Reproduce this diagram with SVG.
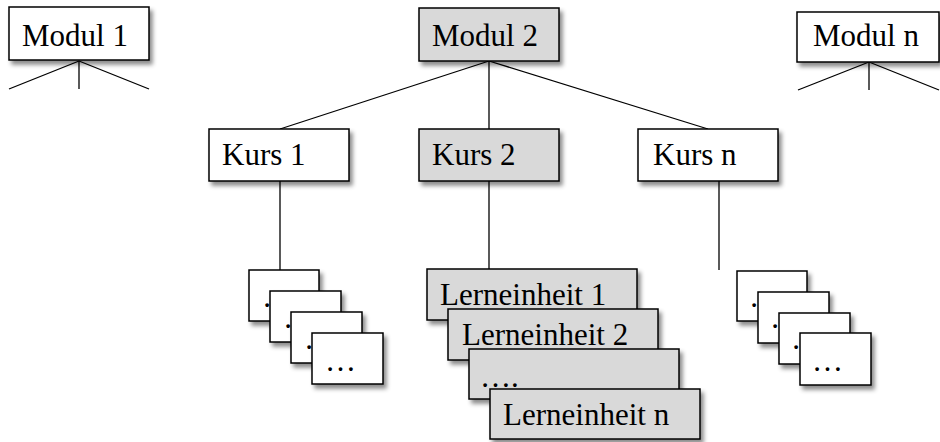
<svg xmlns="http://www.w3.org/2000/svg" width="940" height="442" viewBox="0 0 940 442">
  <style>
    .box { fill: #ffffff; stroke: #000000; stroke-width: 1.5; filter: url(#shadow); }
    .grey { fill: #d9d9d9; }
    .lbl { font-family: "Liberation Serif", "Times New Roman", serif; font-size: 31px; fill: #000000; }
    .link { stroke: #000000; stroke-width: 1.3; fill: none; }
  </style>
  <defs>
    <filter id="shadow" x="-10%" y="-10%" width="130%" height="140%">
      <feDropShadow dx="3" dy="4" stdDeviation="2" flood-color="#000000" flood-opacity="0.45"/>
    </filter>
  </defs>
  <rect width="940" height="442" fill="#ffffff"/>

  <!-- connectors -->
  <g id="connectors" class="link">
    <!-- Modul 1 fan -->
    <line x1="79" y1="61" x2="9" y2="89"/>
    <line x1="79" y1="61" x2="79" y2="89"/>
    <line x1="79" y1="61" x2="149" y2="89"/>
    <!-- Modul n fan -->
    <line x1="869" y1="62" x2="798" y2="90"/>
    <line x1="869" y1="62" x2="869" y2="90"/>
    <line x1="869" y1="62" x2="939" y2="90"/>
    <!-- Modul 2 to courses -->
    <line x1="489" y1="61" x2="280" y2="129"/>
    <line x1="489" y1="61" x2="489" y2="129"/>
    <line x1="489" y1="61" x2="708" y2="129"/>
    <!-- courses to units -->
    <line x1="280" y1="181" x2="280" y2="270"/>
    <line x1="489" y1="181" x2="489" y2="269"/>
    <line x1="719" y1="181" x2="719" y2="270"/>
  </g>

  <!-- modules -->
  <g id="modul1">
    <rect class="box" x="9" y="7" width="140" height="53"/>
    <text class="lbl" x="22" y="46">Modul 1</text>
  </g>
  <g id="modul2">
    <rect class="box grey" x="419" y="8" width="140" height="53"/>
    <text class="lbl" x="432" y="46">Modul 2</text>
  </g>
  <g id="moduln">
    <rect class="box" x="797" y="12" width="142" height="50"/>
    <text class="lbl" x="813" y="46">Modul n</text>
  </g>

  <!-- courses -->
  <g id="kurs1">
    <rect class="box" x="209" y="129" width="140" height="52"/>
    <text class="lbl" x="222" y="165">Kurs 1</text>
  </g>
  <g id="kurs2">
    <rect class="box grey" x="419" y="129" width="140" height="52"/>
    <text class="lbl" x="432" y="165">Kurs 2</text>
  </g>
  <g id="kursn">
    <rect class="box" x="638" y="129" width="140" height="52"/>
    <text class="lbl" x="653" y="165">Kurs n</text>
  </g>

  <!-- units of Kurs 1 -->
  <g id="units1">
    <rect class="box" x="249" y="270" width="70" height="51"/>
    <text class="lbl" x="262" y="307">…</text>
    <rect class="box" x="270" y="291" width="71" height="51"/>
    <text class="lbl" x="283" y="328">…</text>
    <rect class="box" x="291" y="312" width="71" height="51"/>
    <text class="lbl" x="304" y="349">…</text>
    <rect class="box" x="312" y="333" width="71" height="51"/>
    <text class="lbl" x="325" y="371">…</text>
  </g>

  <!-- units of Kurs 2 -->
  <g id="units2">
    <rect class="box grey" x="427" y="269" width="210" height="51"/>
    <text class="lbl" x="440" y="305">Lerneinheit 1</text>
    <rect class="box grey" x="448" y="309" width="210" height="51"/>
    <text class="lbl" x="462" y="345">Lerneinheit 2</text>
    <rect class="box grey" x="469" y="349" width="210" height="50"/>
    <text class="lbl" x="480" y="387">….</text>
    <rect class="box grey" x="490" y="389" width="210" height="50"/>
    <text class="lbl" x="503" y="425">Lerneinheit n</text>
  </g>

  <!-- units of Kurs n -->
  <g id="unitsn">
    <rect class="box" x="737" y="271" width="70" height="50"/>
    <text class="lbl" x="749" y="307">…</text>
    <rect class="box" x="758" y="292" width="71" height="51"/>
    <text class="lbl" x="770" y="328">…</text>
    <rect class="box" x="779" y="313" width="71" height="51"/>
    <text class="lbl" x="791" y="349">…</text>
    <rect class="box" x="800" y="333" width="71" height="52"/>
    <text class="lbl" x="812" y="371">…</text>
  </g>
</svg>
